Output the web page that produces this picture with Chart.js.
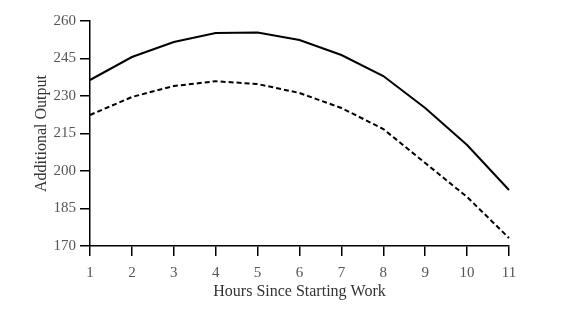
<!DOCTYPE html>
<html>
<head>
<meta charset="utf-8">
<script src="https://cdn.jsdelivr.net/npm/chart.js@4"></script>
<style>
  html, body { margin: 0; padding: 0; background: #fff; }
  #wrap { width: 577px; height: 314px; }
</style>
</head>
<body>
<div id="wrap"><canvas id="chart" width="577" height="314"></canvas></div>
<script>
const hours = ["1", "2", "3", "4", "5", "6", "7", "8", "9", "10", "11"];
const upperOutput = [236.4, 245.6, 251.6, 255.2, 255.4, 252.4, 246.4, 238.0, 225.2, 210.4, 192.4];
const lowerOutput = [222.4, 229.6, 234.0, 235.9, 234.8, 231.2, 225.2, 216.8, 203.2, 189.6, 173.2];
const yTicks = [170, 185, 200, 215, 230, 245, 260];

const FONT = "'Liberation Serif', 'DejaVu Serif', serif";

new Chart(document.getElementById("chart"), {
  type: "line",
  data: {
    labels: hours,
    datasets: [
      {
        data: upperOutput,
        borderColor: "#000",
        borderWidth: 2,
        pointRadius: 0,
        tension: 0,
        fill: false
      },
      {
        data: lowerOutput,
        borderColor: "#000",
        borderWidth: 2,
        borderDash: [5, 3],
        pointRadius: 0,
        tension: 0,
        fill: false
      }
    ]
  },
  options: {
    responsive: false,
    animation: false,
    layout: { padding: { left: 0, right: 68, top: 21, bottom: 0 } },
    plugins: {
      legend: { display: false },
      tooltip: { enabled: false }
    },
    scales: {
      x: {
        offset: false,
        grid: { drawOnChartArea: false, color: "#000", tickLength: 10, lineWidth: 1.5 },
        border: { color: "#000", width: 1.5 },
        ticks: { color: "#555", font: { family: FONT, size: 15 }, padding: 8, maxRotation: 0 },
        title: {
          display: true,
          text: "Hours Since Starting Work",
          color: "#333",
          font: { family: FONT, size: 16 },
          padding: { top: 0, bottom: 13 }
        },
        afterFit: scale => { scale.height = 68; }
      },
      y: {
        min: yTicks[0],
        max: yTicks[yTicks.length - 1],
        afterBuildTicks: scale => { scale.ticks = yTicks.map(v => ({ value: v })); },
        grid: { drawOnChartArea: false, color: "#000", tickLength: 10, lineWidth: 1.5 },
        border: { color: "#000", width: 1.5 },
        ticks: { color: "#555", font: { family: FONT, size: 15 }, padding: 4 },
        title: {
          display: true,
          text: "Additional Output",
          color: "#333",
          font: { family: FONT, size: 16 },
          padding: { top: 32, bottom: 0 }
        },
        afterFit: scale => { scale.width = 90; }
      }
    }
  }
});
</script>
</body>
</html>
